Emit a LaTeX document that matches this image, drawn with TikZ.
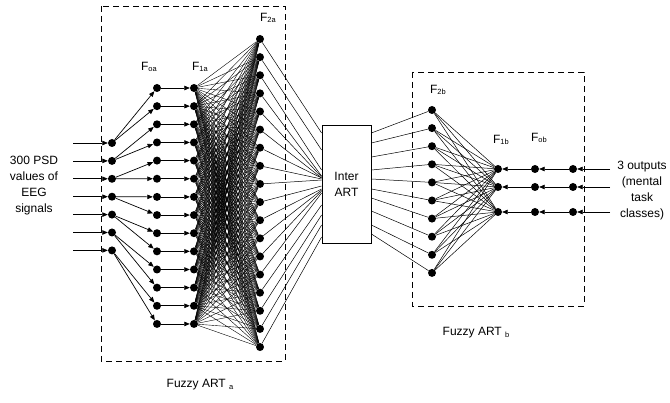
\documentclass[tikz,border=0pt]{standalone}
\usepackage{fontspec}
\setmainfont{Liberation Sans}
\usetikzlibrary{arrows, arrows.meta, positioning}
\newcommand{\lsub}[1]{\raisebox{-0.2ex}{\fontsize{7.5}{8}\selectfont #1}}

\begin{document}
\begin{tikzpicture}[
    x=1pt, y=-1pt,
    neuron/.style={circle, fill=black, inner sep=0pt, minimum size=8pt},
    link/.style={line width=0.5pt},
    thinlink/.style={line width=0.4pt},
    arrow/.style={-{Triangle[length=5.5pt, width=4.5pt]}, line width=0.7pt},
    frame/.style={draw, line width=0.8pt, dash pattern=on 6pt off 4pt},
    txt/.style={font=\fontsize{12}{16}\selectfont, align=center}
  ]
  \useasboundingbox (0,0) rectangle (670,403);

  % Fuzzy ART frames
  \draw[frame] (101,6) rectangle (285,361);
  \draw[frame] (412,72) rectangle (584,306);

  % Input layer
  \foreach \i in {1,...,7} {
      \node[neuron] (inp\i) at (112,{143+17.9*(\i-1)}) {};
      \coordinate (src\i) at (73,{143+17.9*(\i-1)});
      \draw[arrow] (src\i) -- (inp\i);
    }

  % F0a and F1a layers
  \foreach \i in {1,...,14} {
      \node[neuron] (f0a\i) at (157,{88+18.15*(\i-1)}) {};
      \node[neuron] (f1a\i) at (194,{88+18.15*(\i-1)}) {};
      \draw[arrow] (f0a\i) -- (f1a\i);
    }

  % each input feeds two F0a nodes
  \foreach \i in {1,...,7} {
      \pgfmathtruncatemacro{\a}{2*\i-1}
      \pgfmathtruncatemacro{\b}{2*\i}
      \draw[arrow] (inp\i) -- (f0a\a);
      \draw[arrow] (inp\i) -- (f0a\b);
    }

  % F2a layer, fully connected to F1a
  \foreach \j in {1,...,18}
    \node[neuron] (f2a\j) at (260,{39+18.12*(\j-1)}) {};
  \foreach \i in {1,...,14}
    \foreach \j in {1,...,18}
      \draw[thinlink] (f1a\i) -- (f2a\j);

  % Inter ART
  \node[draw, line width=0.8pt, minimum width=49pt, minimum height=118pt, txt] (inter) at (346.5,184) {Inter\\ART};
  \foreach \j/\e in {1/133, 2/150, 3/170, 4/176, 5/177, 6/178, 7/178, 8/179, 9/180,
                     10/186, 11/189, 12/190, 13/191, 14/193, 15/205, 16/215, 17/225, 18/237}
    \draw[link] (f2a\j) -- ([yshift={184-\e}]inter.west);

  % F2b layer
  \foreach \j/\s in {1/133, 2/143, 3/157, 4/170, 5/179, 6/189, 7/198, 8/211, 9/225, 10/234} {
      \node[neuron] (f2b\j) at (432,{110+18.1*(\j-1)}) {};
      \draw[link] ([yshift={184-\s}]inter.east) -- (f2b\j);
    }

  % F1b, F0b and output nodes
  \foreach \k/\h in {1/169, 2/187, 3/212} {
      \node[neuron] (f1b\k) at (498,\h) {};
      \node[neuron] (f0b\k) at (535,\h) {};
      \node[neuron] (outn\k) at (573,\h) {};
      \coordinate (dst\k) at (610,\h);
      \draw[arrow] (dst\k) -- (outn\k);
      \draw[arrow] (outn\k) -- (f0b\k);
      \draw[arrow] (f0b\k) -- (f1b\k);
    }
  \foreach \j in {1,...,10}
    \foreach \k in {1,2,3}
      \draw[link] (f2b\j) -- (f1b\k);

  % Texts
  \node[txt] (psd) at (34,186) {300 PSD\\values of\\EEG\\signals};
  \node[txt] (outs) at (642,191) {3 outputs\\(mental\\task\\classes)};
  \node[txt] (l0a) at (149,67) {F\lsub{oa}};
  \node[txt] (l1a) at (200,67) {F\lsub{1a}};
  \node[txt] (l2a) at (268,18) {F\lsub{2a}};
  \node[txt] (l2b) at (438,90) {F\lsub{2b}};
  \node[txt] (l1b) at (501,140) {F\lsub{1b}};
  \node[txt] (l0b) at (539,138) {F\lsub{ob}};
  \node[txt] (arta) at (200,385) {Fuzzy ART \lsub{a}};
  \node[txt] (artb) at (476,333) {Fuzzy ART \lsub{b}};

\end{tikzpicture}
\end{document}
